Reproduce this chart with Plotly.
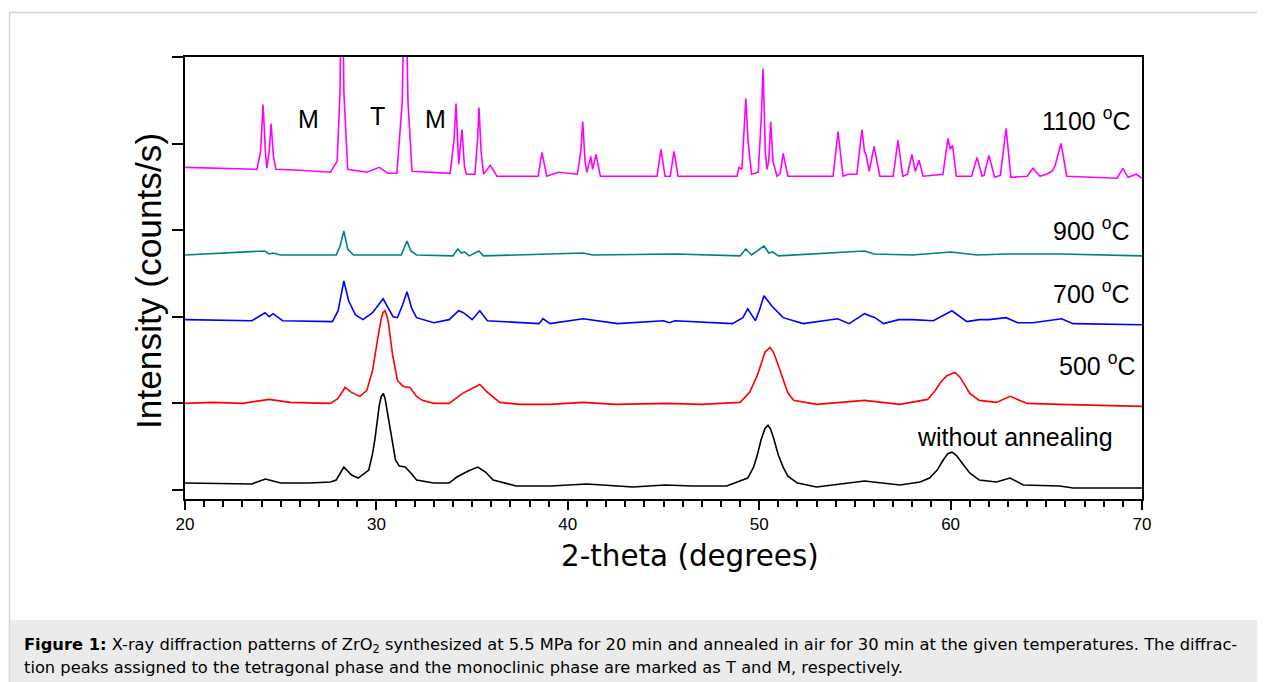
import plotly.graph_objects as go

# ---------------- data ----------------
# 2-theta (degrees) and intensity (arbitrary counts/s, curves are vertically stacked)
tt_raw = [20.0, 22.0, 23.5, 24.2, 25.0, 26.5, 27.6, 27.9, 28.3, 28.7, 29.05, 29.6, 29.8, 29.93,
          30.05, 30.15, 30.25, 30.36, 30.45, 30.55, 30.68, 30.8, 31.0, 31.2, 31.5, 31.8, 32.1,
          33.0, 33.8, 34.2, 34.8, 35.3, 35.7, 36.1, 37.3, 39.1, 41.0, 43.4, 45.1, 46.5, 48.3,
          49.4, 49.7, 49.9, 50.1, 50.3, 50.46, 50.6, 50.75, 51.0, 51.25, 51.5, 52.0, 53.0, 55.5,
          57.35, 58.4, 58.9, 59.3, 59.6, 59.85, 60.07, 60.3, 60.6, 61.0, 61.5, 62.4, 63.1, 63.8,
          65.7, 66.4, 70.0]
int_raw = [80, 75, 70, 127, 80, 80, 92, 115, 265, 173, 138, 230, 420, 598,
           800, 978, 1080, 1116, 1060, 920, 750, 598, 345, 276, 265, 196, 115,
           80, 80, 150, 219, 265, 207, 115, 46, 46, 69, 35, 58, 46, 46,
           138, 260, 403, 580, 710, 748, 700, 600, 403, 265, 160, 80, 35, 104,
           58, 92, 138, 230, 340, 420, 437, 400, 311, 196, 115, 92, 138, 58,
           46, 23, 23]

tt_500 = [20.0, 21.5, 23.0, 24.4, 25.5, 27.6, 28.0, 28.36, 28.7, 29.14, 29.5, 29.8, 30.05, 30.25,
          30.35, 30.45, 30.55, 30.65, 30.85, 31.1, 31.4, 31.75, 32.1, 32.4, 33.0, 33.8, 34.5,
          35.0, 35.4, 35.8, 36.45, 37.5, 39.07, 40.8, 42.5, 45.2, 47.0, 49.0, 49.5, 49.9, 50.1,
          50.3, 50.56, 50.75, 50.95, 51.25, 51.5, 51.8, 53.0, 55.5, 57.35, 58.8, 59.2, 59.5, 59.8,
          60.23, 60.5, 60.8, 61.0, 61.5, 62.4, 63.1, 64.0, 65.7, 70.0]
int_500 = [1000, 1012, 1000, 1046, 1012, 1000, 1058, 1184, 1127, 1081, 1150, 1380, 1725, 1978,
           2050, 2070, 2010, 1898, 1553, 1265, 1196, 1184, 1081, 1035, 1000, 1000, 1116,
           1173, 1219, 1127, 1012, 989, 989, 1012, 989, 1000, 989, 1012, 1127, 1323, 1470,
           1590, 1645, 1590, 1470, 1265, 1120, 1035, 989, 1035, 989, 1046, 1150, 1250, 1320,
           1357, 1300, 1190, 1116, 1035, 1012, 1081, 1000, 989, 966]

tt_700 = [20.0, 23.5, 24.18, 24.4, 24.6, 25.1, 27.7, 28.0, 28.3, 28.55, 28.9, 29.3, 29.8, 30.35,
          30.87, 31.1, 31.35, 31.6, 31.85, 32.1, 33.0, 33.8, 34.3, 34.55, 35.0, 35.4, 35.8, 38.5,
          38.7, 39.07, 40.8, 41.6, 42.6, 45.0, 45.3, 45.6, 48.6, 49.15, 49.4, 49.8, 50.0, 50.25,
          50.65, 51.25, 52.3, 54.1, 54.7, 55.5, 56.05, 56.5, 57.3, 58.0, 59.1, 60.07, 60.85, 61.5,
          62.0, 62.9, 63.5, 64.3, 65.8, 66.4, 70.0]
int_700 = [1967, 1955, 2047, 2001, 2036, 1955, 1944, 2070, 2415, 2185, 2024, 1967, 2047, 2208,
           2001, 1990, 2128, 2289, 2093, 1990, 1932, 1967, 2070, 2047, 1967, 2070, 1955, 1921,
           1978, 1921, 1978, 1955, 1921, 1955, 1932, 1955, 1921, 1990, 2093, 1955, 2070, 2243,
           2128, 1990, 1921, 1978, 1921, 2036, 1990, 1921, 1967, 1967, 1955, 2070, 1944, 1967,
           1967, 1990, 1932, 1932, 1978, 1921, 1909]

tt_900 = [20.0, 24.15, 24.4, 24.6, 25.0, 27.9, 28.1, 28.3, 28.5, 28.8, 31.3, 31.5, 31.6, 31.8,
          32.1, 34.0, 34.25, 34.45, 34.6, 34.85, 35.35, 35.6, 38.7, 40.8, 41.3, 45.6, 49.0, 49.3,
          49.6, 50.25, 50.5, 50.7, 51.0, 54.1, 55.5, 56.0, 57.2, 58.0, 60.0, 61.4, 62.9, 65.8, 70.0]
int_900 = [2714, 2760, 2726, 2737, 2714, 2714, 2818, 2990, 2783, 2714, 2714, 2818, 2875, 2760,
           2714, 2703, 2783, 2737, 2749, 2703, 2760, 2703, 2726, 2737, 2714, 2726, 2703, 2783,
           2714, 2818, 2737, 2749, 2703, 2737, 2760, 2726, 2714, 2714, 2749, 2714, 2726, 2726, 2703]

tt_1100 = [20.0, 22.0, 23.76, 23.95, 24.08, 24.2, 24.27, 24.4, 24.5, 24.62, 24.75, 26.0, 27.6,
           27.95, 28.1, 28.2, 28.3, 28.5, 29.5, 30.15, 30.6, 31.07, 31.35, 31.5, 31.65, 31.86,
           33.0, 33.85, 34.05, 34.16, 34.3, 34.47, 34.6, 34.7, 35.15, 35.28, 35.36, 35.47, 35.6,
           35.95, 36.3, 38.45, 38.65, 38.9, 39.5, 40.5, 40.68, 40.78, 40.9, 41.0, 41.2, 41.3,
           41.47, 41.7, 44.66, 44.87, 45.08, 45.35, 45.55, 45.76, 48.84, 48.95, 49.1, 49.2, 49.3,
           49.42, 49.6, 49.95, 50.1, 50.2, 50.32, 50.4, 50.5, 50.6, 50.72, 50.93, 51.1, 51.25,
           51.5, 53.86, 54.12, 54.38, 54.65, 55.1, 55.37, 55.5, 55.58, 55.75, 56.0, 56.3, 57.0,
           57.25, 57.5, 57.75, 57.98, 58.15, 58.35, 58.56, 59.6, 59.86, 59.98, 60.1, 60.3, 61.1,
           61.38, 61.65, 61.75, 62.0, 62.3, 62.6, 62.9, 63.15, 64.0, 64.3, 64.67, 65.0, 65.3,
           65.45, 65.77, 66.07, 68.7, 69.0, 69.27, 69.7, 70.0]
int_1100 = [3726, 3715, 3703, 3910, 4451, 3910, 3715, 3910, 4232, 3853, 3703, 3692, 3669,
            3795, 4600, 6500, 4600, 3703, 3669, 3726, 3657, 3657, 4485, 6300, 4485, 3680,
            3669, 3657, 4025, 4462, 3761, 4163, 3738, 3646, 3646, 4025, 4416, 3910, 3646,
            3749, 3623, 3623, 3899, 3623, 3669, 3646, 3910, 4255, 3795, 3669, 3853, 3703,
            3876, 3623, 3623, 3933, 3623, 3623, 3910, 3623, 3623, 3726, 3703, 4140, 4520,
            4025, 3646, 3669, 4255, 4865, 3910, 3703, 3795, 4255, 3795, 3623, 3657, 3887,
            3623, 3623, 4140, 3623, 3646, 3646, 4163, 3910, 3876, 3680, 3968, 3623, 3623,
            4037, 3623, 3646, 3876, 3680, 3807, 3623, 3646, 4060, 3933, 3979, 3623, 3623,
            3841, 3623, 3634, 3864, 3611, 3634, 4175, 3611, 3623, 3715, 3623, 3646, 3680,
            3738, 4002, 3623, 3600, 3715, 3611, 3646, 3600]

series_names = ["without annealing", "500 °C", "700 °C", "900 °C", "1100 °C"]
series_x = [tt_raw, tt_500, tt_700, tt_900, tt_1100]
series_y = [int_raw, int_500, int_700, int_900, int_1100]
series_colors = ["#000000", "#ff0000", "#0000ff", "#008080", "#ff00ff"]

# curve labels
label_texts = ["1100 <sup>o</sup>C", "900 <sup>o</sup>C", "700 <sup>o</sup>C", "500 <sup>o</sup>C",
               "without annealing"]
label_x = [69.55, 69.4, 69.4, 69.72, 63.37]
label_y = [4285, 3015, 2287, 1455, 612]
label_anchor = ["right", "right", "right", "right", "center"]

phase_texts = ["M", "T", "M"]
phase_x = [26.43, 30.08, 33.11]
phase_y = [4285, 4320, 4285]

caption_line1 = ("<b>Figure 1:</b> X-ray diffraction patterns of ZrO<sub>2</sub> synthesized at 5.5 MPa "
                 "for 20 min and annealed in air for 30 min at the given temperatures. The diffrac-")
caption_line2 = ("tion peaks assigned to the tetragonal phase and the monoclinic phase are marked "
                 "as T and M, respectively.")

# ---------------- figure ----------------
OFF = 8                      # page body margin of the browser
W, H = 1265 - OFF, 682 - OFF
L, R, T, B = 185, 1142, 57, 499   # plot area in screen pixels
pw, ph = R - L, B - T


def px(x):
    return (x - L) / pw


def py(y):
    return (B - y) / ph


fig = go.Figure()
for name, xs, ys, col in zip(series_names, series_x, series_y, series_colors):
    fig.add_trace(go.Scatter(x=xs, y=ys, mode="lines", name=name,
                             line=dict(color=col, width=1.6), showlegend=False))

lab_font = dict(family="Liberation Sans, Arial", size=25, color="black")
ann = []
for t, x, y, a in zip(label_texts, label_x, label_y, label_anchor):
    ann.append(dict(text=t, x=x, y=y, xref="x", yref="y", xanchor=a, yanchor="middle",
                    showarrow=False, font=lab_font))
for t, x, y in zip(phase_texts, phase_x, phase_y):
    ann.append(dict(text=t, x=x, y=y, xref="x", yref="y", xanchor="center", yanchor="middle",
                    showarrow=False, font=lab_font))

# axis titles
ann.append(dict(text="2-theta (degrees)", x=px(690), y=py(556), xref="paper", yref="paper",
                xanchor="center", yanchor="middle", showarrow=False,
                font=dict(family="DejaVu Sans", size=29.4, color="black")))
ann.append(dict(text="Intensity (counts/s)", x=px(148), y=py(281), xref="paper", yref="paper",
                xanchor="center", yanchor="middle", showarrow=False, textangle=-90,
                font=dict(family="Liberation Sans, Arial", size=35.3, color="black")))

# caption
cap_font = dict(family="DejaVu Sans", size=16.3, color="black")
ann.append(dict(text=caption_line1, x=px(22), y=py(645), xref="paper", yref="paper",
                xanchor="left", yanchor="middle", showarrow=False, align="left", font=cap_font))
ann.append(dict(text=caption_line2, x=px(22), y=py(667), xref="paper", yref="paper",
                xanchor="left", yanchor="middle", showarrow=False, align="left", font=cap_font))

shapes = [
    dict(type="rect", xref="paper", yref="paper", x0=px(9), x1=px(1300), y0=py(620), y1=py(720),
         fillcolor="#ebebeb", line=dict(width=0), layer="below"),
    dict(type="line", xref="paper", yref="paper", x0=px(9), x1=px(1300), y0=py(12.5), y1=py(12.5),
         line=dict(color="#d6d6d6", width=1.5)),
    dict(type="line", xref="paper", yref="paper", x0=px(9.5), x1=px(9.5), y0=py(12.5), y1=py(720),
         line=dict(color="#d6d6d6", width=1.5)),
]

fig.update_layout(
    width=W, height=H,
    margin=dict(l=L - OFF, r=W - (R - OFF), t=T - OFF, b=H - (B - OFF)),
    paper_bgcolor="white", plot_bgcolor="white",
    annotations=ann, shapes=shapes,
    font=dict(family="Liberation Sans, Arial", color="black"),
)
fig.update_xaxes(range=[20, 70], dtick=10, tick0=20, showgrid=False, zeroline=False,
                 showline=True, linecolor="black", linewidth=2, mirror=True,
                 ticks="outside", ticklen=9, tickwidth=2, tickcolor="black",
                 tickfont=dict(family="Liberation Sans, Arial", size=17, color="black"),
                 minor=dict(dtick=1, ticks="outside", ticklen=6, tickwidth=1.5, tickcolor="black",
                            showgrid=False))
fig.update_yaxes(range=[-104, 5000], dtick=1000, tick0=0, showgrid=False, zeroline=False,
                 showline=True, linecolor="black", linewidth=2, mirror=True,
                 ticks="outside", ticklen=11, tickwidth=2, tickcolor="black",
                 showticklabels=False)

fig.write_html("out.html")
